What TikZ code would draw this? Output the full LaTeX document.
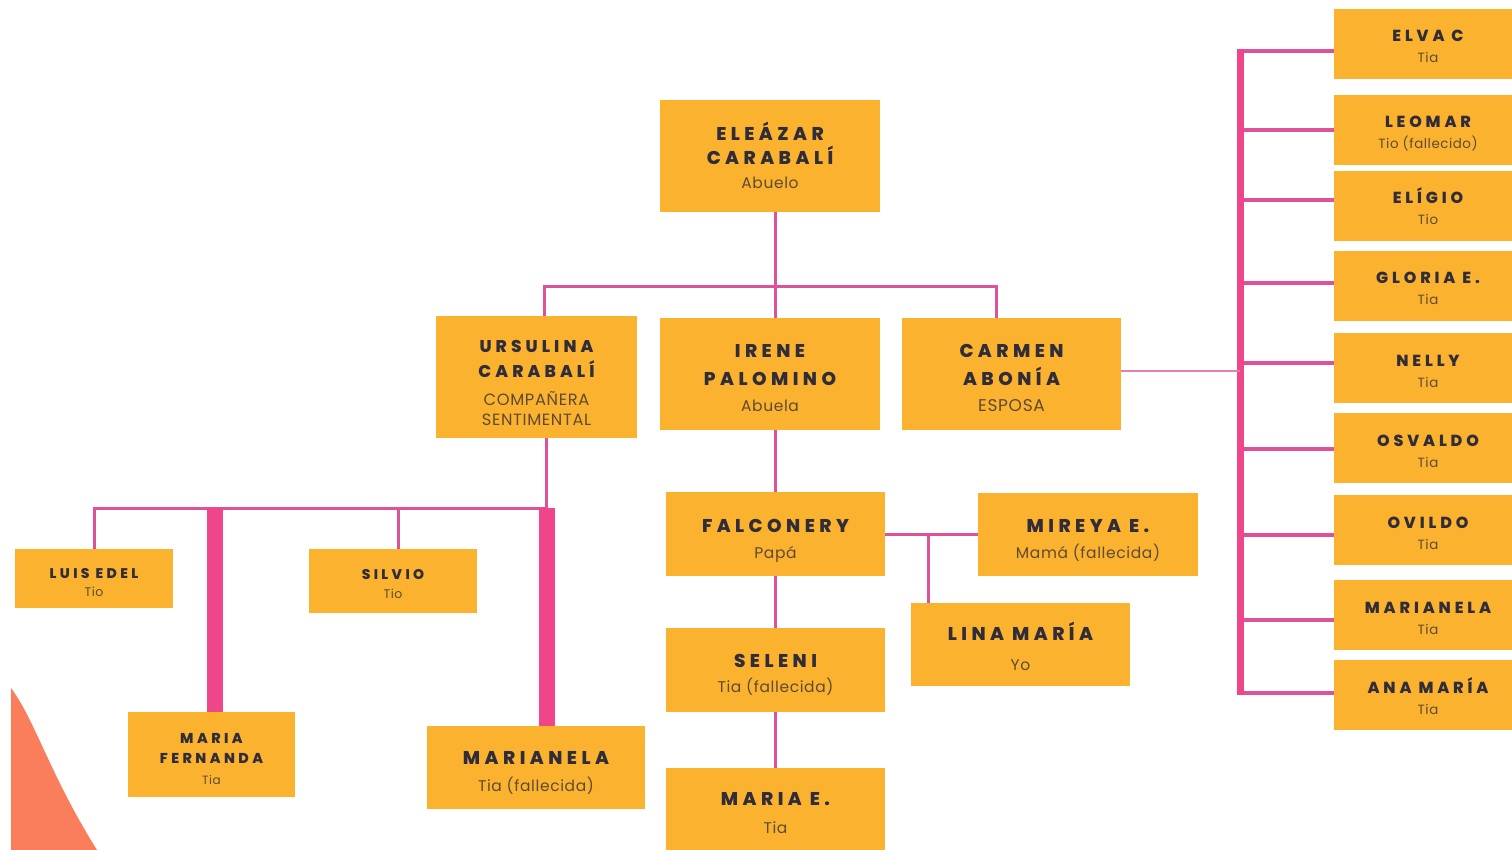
\documentclass[tikz,border=0pt]{standalone}
\usepackage{fontspec}
\newfontfamily\nomfont{Poppins}[LetterSpace=24, BoldFont={Poppins ExtraBold}]
\newfontfamily\rolfont{Poppins}[LetterSpace=4]
\definecolor{caja}{HTML}{FBB32F}
\definecolor{tinta}{HTML}{302C38}
\definecolor{tintarol}{HTML}{5E4A35}
\definecolor{rosa}{HTML}{DC539A}
\definecolor{rosafuerte}{HTML}{EE4689}
\definecolor{coral}{HTML}{FA7E5B}
\newcommand\nom[2][18.5]{{\nomfont\bfseries\fontsize{#1}{#1}\selectfont #2}}
\newcommand\rol[2][15.5]{{\rolfont\color{tintarol}\fontsize{#1}{#1}\selectfont #2}}
\tikzset{
  persona/.style={rectangle, fill=caja, inner sep=0pt, align=center, text=tinta, text depth=0pt},
  tam/.style 2 args={minimum width=#1pt, minimum height=#2pt},
  salto/.style 2 args={font=\fontsize{10}{#1}\selectfont, text height=#2pt},
  rama/.style={draw=rosa, line width=3pt},
  barra/.style={draw=rosafuerte, line width=16pt},
  eje/.style={draw=rosafuerte, line width=7pt},
  ramal/.style={draw=rosa, line width=4pt},
  enlace/.style={draw=rosa!75, line width=2pt},
}
\begin{document}
\begin{tikzpicture}[x=1pt, y=-1pt]
  \clip (0,0) rectangle (1512,850);
  % mancha de la esquina
  \fill[coral] (11,688) .. controls (35,720) and (50,775) .. (97,850) -- (11,850) -- cycle;

  % abuelos
  \node[persona, tam={220}{112}, salto={24pt}{66}] (eleazar) at (770,156) {\nom{ELEÁZAR}\\\nom{CARABALÍ}\\\rol{Abuelo}};
  \node[persona, tam={201}{122}, salto={20pt}{96}] (ursulina) at (536.5,377) {\nom[17]{URSULINA}\\[5pt]\nom[17]{CARABALÍ}\\[8pt]\rol[16.3]{COMPAÑERA}\\\rol[16.3]{SENTIMENTAL}};
  \node[persona, tam={220}{112}, salto={26pt}{74}] (irene) at (770,374) {\nom{IRENE}\\[2pt]\nom{PALOMINO}\\\rol{Abuela}};
  \node[persona, tam={219}{112}, salto={26pt}{74}] (carmen) at (1011.5,374) {\nom{CARMEN}\\[2pt]\nom{ABONÍA}\\\rol[17]{ESPOSA}};

  % padres y hermanos
  \node[persona, tam={219}{84}, salto={26pt}{48}] (falconery) at (775.5,534) {\nom{FALCONERY}\\\rol{Papá}};
  \node[persona, tam={220}{83}, salto={26pt}{47}] (mireya) at (1088,534.5) {\nom{MIREYA E.}\\\rol{Mamá (fallecida)}};
  \node[persona, tam={219}{83}, salto={30pt}{51}] (lina) at (1020.5,644.5) {\nom{LINA MARÍA}\\\rol{Yo}};
  \node[persona, tam={219}{84}, salto={25pt}{44}] (seleni) at (775.5,670) {\nom{SELENI}\\\rol{Tia (fallecida)}};
  \node[persona, tam={219}{82}, salto={28pt}{48}] (mariae) at (775.5,809) {\nom{MARIA E.}\\\rol{Tia}};

  % hijos de Ursulina
  \node[persona, tam={158}{59}, salto={18pt}{35}] (luis) at (94,578.5) {\nom[14]{LUIS EDEL}\\\rol[12.5]{Tio}};
  \node[persona, tam={168}{64}, salto={19pt}{34}] (silvio) at (393,581) {\nom[14]{SILVIO}\\\rol[12.5]{Tio}};
  \node[persona, tam={167}{85}, salto={20.5pt}{59}] (mariaf) at (211.5,754.5) {\nom[14.3]{MARIA}\\\nom[14.3]{FERNANDA}\\\rol[12]{Tia}};
  \node[persona, tam={218}{83}, salto={27pt}{47}] (marianela) at (536,767.5) {\nom{MARIANELA}\\\rol{Tia (fallecida)}};

  % hijos de Carmen
  \coordinate (ejesup) at (1240,49);
  \coordinate (ejeinf) at (1240,695);
  \foreach \id/\yc/\yr/\nombre/\papel in {elva/44/51/ELVA C/Tia, leomar/130/130/LEOMAR/Tio (fallecido), eligio/206/200/ELÍGIO/Tio, gloria/286/283/GLORIA E./Tia, nelly/368/363/NELLY/Tia, osvaldo/448/449/OSVALDO/Tia, ovildo/530/535/OVILDO/Tia, marianela2/615/620/MARIANELA/Tia, anamaria/695/693/ANA MARÍA/Tia}{
    \node[persona, tam={188}{70}, salto={21pt}{38}] (\id) at (1428,\yc) {\nom[16]{\nombre}\\\rol[13.4]{\papel}};
    \coordinate (r\id) at (1240,\yr);
    \draw[ramal] (r\id) -- (r\id -| \id.west);
  }
  \draw[eje] (ejesup) -- (ejeinf);
  \draw[enlace] ([yshift=3pt]carmen.east) -- ([yshift=3pt]carmen.east -| ejesup);

  % lineas del arbol
  \coordinate (tronco) at (775,287);
  \draw[rama] ([xshift=5pt]eleazar.south) -- ([xshift=5pt]irene.north);
  \draw[rama] ([xshift=7.5pt]ursulina.north) |- (tronco) -| ([xshift=-15.5pt]carmen.north);
  \draw[rama] (falconery.north) -- (falconery.north |- irene.south);
  \draw[rama] (falconery) -- (seleni);
  \draw[rama] (seleni) -- (mariae);
  \draw[rama] (falconery.east) -- (falconery.east -| mireya.west);
  \coordinate (pareja) at (928,534);
  \draw[rama] (pareja) -- (pareja |- lina.north);

  % lineas de Ursulina
  \coordinate (hijos) at (546,508);
  \draw[rama] ([xshift=9.5pt]ursulina.south) -- (hijos);
  \draw[rama] (luis.north) |- (hijos);
  \draw[rama] ([xshift=5pt]silvio.north) |- (hijos);
  \draw[barra] ([xshift=3.5pt]mariaf.north) -- ([xshift=3.5pt]mariaf.north |- hijos);
  \draw[barra] ([xshift=11pt]marianela.north) -- ([xshift=11pt]marianela.north |- hijos);
\end{tikzpicture}
\end{document}
